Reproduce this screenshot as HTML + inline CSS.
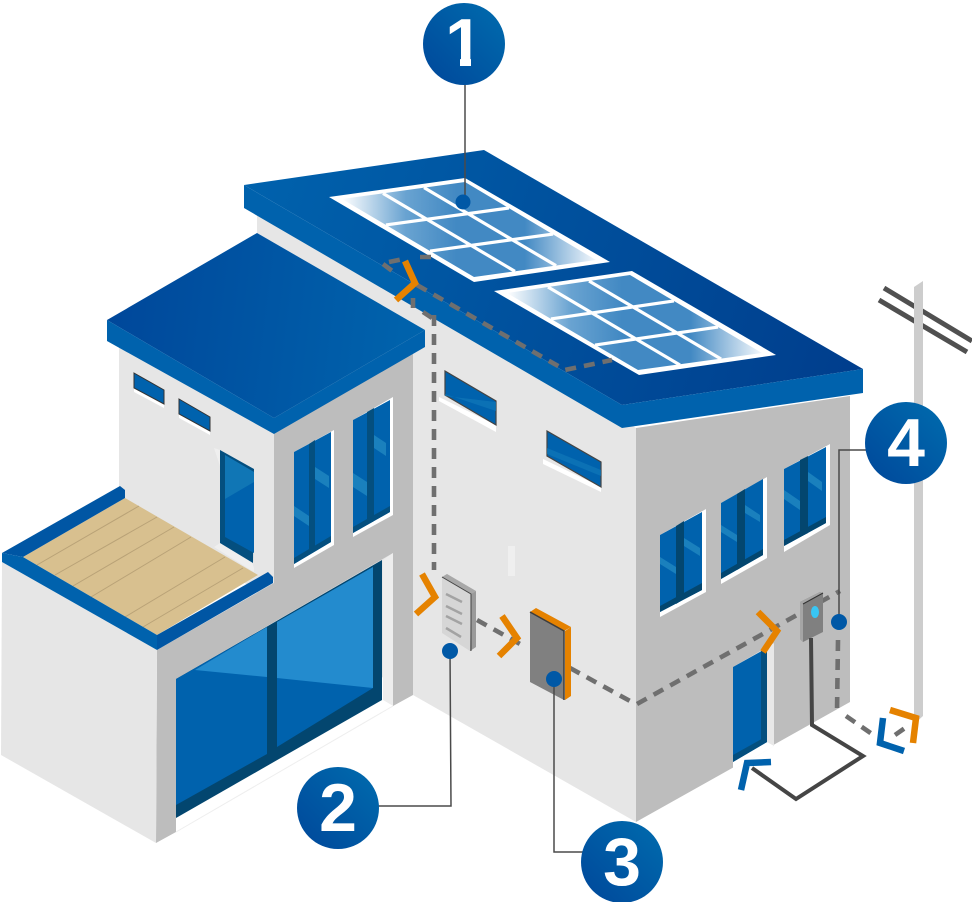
<!DOCTYPE html>
<html><head><meta charset="utf-8"><style>
html,body{margin:0;padding:0;background:#fff}
svg{display:block}
.d{fill:none;stroke:#6f6f6f;stroke-width:4.6;stroke-dasharray:11 8}
.c{fill:none;stroke:#e58200;stroke-width:6.5}
.b{fill:none;stroke:#0062ad;stroke-width:6.5}
.l{fill:none;stroke:#4a4a4a;stroke-width:1.5}
.n{font-family:"Liberation Sans",sans-serif;font-weight:bold;font-size:68px;fill:#fff;text-anchor:middle}
.g{fill:none;stroke:#fff;stroke-width:3.2;vector-effect:non-scaling-stroke}
</style></head><body>
<svg width="972" height="902" viewBox="0 0 972 902" xmlns="http://www.w3.org/2000/svg">
<defs>
<linearGradient id="r1" gradientUnits="userSpaceOnUse" x1="244" y1="185" x2="863" y2="390"><stop offset="0" stop-color="#0062ad"/><stop offset="1" stop-color="#003d8c"/></linearGradient>
<linearGradient id="r2" gradientUnits="userSpaceOnUse" x1="107" y1="300" x2="425" y2="340"><stop offset="0" stop-color="#00479a"/><stop offset="1" stop-color="#0064ad"/></linearGradient>
<linearGradient id="p1" gradientUnits="userSpaceOnUse" x1="342" y1="0" x2="596" y2="0"><stop offset="0" stop-color="#fff"/><stop offset=".25" stop-color="#69a3d1"/><stop offset=".45" stop-color="#4289c3"/><stop offset=".72" stop-color="#4289c3"/><stop offset="1" stop-color="#f4f8fc"/></linearGradient>
<linearGradient id="p2" gradientUnits="userSpaceOnUse" x1="507" y1="0" x2="762" y2="0"><stop offset="0" stop-color="#fff"/><stop offset=".25" stop-color="#69a3d1"/><stop offset=".45" stop-color="#4289c3"/><stop offset=".72" stop-color="#4289c3"/><stop offset="1" stop-color="#f4f8fc"/></linearGradient>
<linearGradient id="k" x1="0" y1="1" x2="1" y2="0"><stop offset="0" stop-color="#00479a"/><stop offset="1" stop-color="#006cae"/></linearGradient>
<clipPath id="one"><polygon points="430,0 500,0 500,58 471,58 471,72 460,72 460,58 430,58"/></clipPath>
</defs>

<!-- utility pole -->
<path d="M884 288L972 341M879 300L967 352" stroke="#505050" stroke-width="5" fill="none"/>
<polygon points="914,287 923,281 923,716 914,724" fill="#cdcdcd"/>

<!-- main house walls -->
<polygon points="257,205 636,428 636,822 413,695 257,605" fill="#e6e6e6"/>
<polygon points="636,428 850,396 850,702 636,822" fill="#bdbdbd"/>

<!-- main roof -->
<polygon points="244,185 484,150 863,369 622,405" fill="url(#r1)"/>
<polygon points="244,185 622,405 863,369 863,393 622,428 244,208" fill="#0062ad"/>

<!-- solar panels -->
<polygon points="329,197 465,178 610,262 474,282" fill="#fff"/>
<polygon points="342,199 465,182 596,260 474,277" fill="url(#p1)"/>
<g transform="matrix(1.23,-.17,1.32,.78,342,199)"><path class="g" d="M33.3 0V100M66.7 0V100M0 33.3H100M0 66.7H100"/></g>
<polygon points="494,291 632,271 776,355 639,375" fill="#fff"/>
<polygon points="507,293 630,275 762,353 638,370" fill="url(#p2)"/>
<g transform="matrix(1.23,-.18,1.32,.78,507,293)"><path class="g" d="M33.3 0V100M66.7 0V100M0 33.3H100M0 66.7H100"/></g>

<!-- main left wall windows -->
<polygon points="439,397 496,425 496,432 439,401" fill="#fff"/>
<polygon points="445,371 496,401 496,425 445,395" fill="#0062ad" stroke="#444" stroke-width="1.2"/>
<polygon points="445,396 496,402 496,411 445,394" fill="#0f78b8" opacity=".7"/>
<polygon points="543,459 601,487 601,492 543,464" fill="#fff"/>
<polygon points="547,431 601,462 601,487 547,456" fill="#0062ad" stroke="#444" stroke-width="1.2"/>
<polygon points="547,448 601,470 601,476 547,454" fill="#0f78b8" opacity=".7"/>

<!-- faint highlight -->
<rect x="508" y="546" width="7" height="30" fill="#efefef"/>

<!-- right wall windows -->
<polygon points="660,535 706,509 706,592 660,617" fill="#fff"/>
<polygon points="660,535 702,512 702,590 660,612" fill="#0062ad"/>
<polygon points="676,526 684,521 684,599 676,604" fill="#03466f"/>
<polygon points="660,606 702,583 702,590 660,612" fill="#03466f"/>
<polygon points="660,557 676,567 676,574 660,564" fill="#1a80bd"/>
<polygon points="684,538 700,548 700,556 684,546" fill="#1a80bd"/>
<polygon points="721,503 767,477 767,558 721,584" fill="#fff"/>
<polygon points="721,503 763,479 763,555 721,579" fill="#0062ad"/>
<polygon points="737,494 745,489 745,565 737,570" fill="#03466f"/>
<polygon points="721,573 763,549 763,555 721,579" fill="#03466f"/>
<polygon points="721,525 737,535 737,542 721,532" fill="#1a80bd"/>
<polygon points="745,505 760,515 760,522 745,513" fill="#1a80bd"/>
<polygon points="784,469 830,444 830,525 784,552" fill="#fff"/>
<polygon points="784,469 826,447 826,523 784,546" fill="#0062ad"/>
<polygon points="800,460 808,456 808,533 800,537" fill="#03466f"/>
<polygon points="784,540 826,517 826,523 784,546" fill="#03466f"/>
<polygon points="784,490 800,501 800,510 784,499" fill="#1a80bd"/>
<polygon points="808,472 822,482 822,491 808,481" fill="#1a80bd"/>

<!-- door -->
<polygon points="733,667 774,643 774,746 733,770" fill="#e8e8e8"/>
<polygon points="733,762 767,742 774,746 733,770" fill="#fff"/>
<polygon points="733,667 767,648 767,742 733,762" fill="#0062ad"/>
<polygon points="761,651 767,648 767,742 761,745" fill="#044f7f"/>
<polygon points="733,755 767,736 767,742 733,762" fill="#044f7f"/>

<!-- small building left wall -->
<polygon points="119,340 274,430 274,600 119,510" fill="#e6e6e6"/>
<polygon points="134,388 164,404 164,408 134,392" fill="#fff"/>
<polygon points="134,373 164,390 164,404 134,388" fill="#0062ad" stroke="#333" stroke-width="1"/>
<polygon points="179,414 210,431 210,435 179,418" fill="#fff"/>
<polygon points="179,399 210,417 210,431 179,414" fill="#0062ad" stroke="#333" stroke-width="1"/>
<polygon points="214,448 220,450 220,543 214,547 254,572 254,568" fill="#efefef"/>
<polygon points="220,450 254,469 253,563 220,543" fill="#044f7f"/>
<polygon points="225,455 254,472 254,553 225,537" fill="#0062ad"/>
<polygon points="225,455 254,472 254,482 225,499" fill="#1076b5"/>

<!-- small building right wall -->
<polygon points="274,434 413,353 413,695 393,706 393,553 176,679 176,832 156,843 157,650 274,583" fill="#bdbdbd"/>
<polygon points="383,560 393,553 393,706 383,700" fill="#ededed"/>
<polygon points="294,452 334,430 334,545 294,568" fill="#fff"/>
<polygon points="294,452 331,432 331,542 294,564" fill="#0062ad"/>
<polygon points="309,444 315,440 315,551 309,555" fill="#044f7f"/>
<polygon points="294,558 331,536 331,542 294,564" fill="#044f7f"/>
<polygon points="315,467 329,476 329,488 315,479" fill="#1a80bd"/>
<polygon points="294,506 309,516 309,526 294,516" fill="#1a80bd"/>
<polygon points="353,420 393,397 393,515 353,537" fill="#fff"/>
<polygon points="353,420 390,400 390,512 353,533" fill="#0062ad"/>
<polygon points="367,412 374,408 374,521 367,525" fill="#044f7f"/>
<polygon points="353,527 390,506 390,512 353,533" fill="#044f7f"/>
<polygon points="374,435 386,443 386,456 374,448" fill="#1a80bd"/>
<polygon points="353,473 367,482 367,496 353,487" fill="#1a80bd"/>

<!-- small roof -->
<polygon points="107,320 257,233 425,330 274,418" fill="url(#r2)"/>
<polygon points="107,320 274,418 425,330 425,347 274,434 107,341" fill="#0062ad"/>

<!-- garage -->
<polygon points="2,562 157,650 156,843 1,755" fill="#e6e6e6"/>
<polygon points="176,832 393,706 383,700 176,818" fill="#fff"/>
<line x1="176" y1="832" x2="393" y2="706" stroke="#eee" stroke-width="1"/>
<polygon points="176,679 382,560 382,700 176,818" fill="#03466f"/>
<polygon points="176,679 267,627 267,754 176,805" fill="#0062ad"/>
<polygon points="277,622 373,567 373,688 277,747" fill="#0062ad"/>
<polygon points="195,670 267,627 267,677" fill="#238bce"/>
<polygon points="277,622 373,567 373,688 277,678" fill="#238bce"/>

<!-- terrace -->
<polygon points="23,557 125,498 258,575 157,635" fill="#d8c08f"/>
<path d="M37,565 139,506M55,575 157,517M73,586 174,527M91,597 191,537M125,617 225,557M143,627 243,568" stroke="#b9a277" stroke-width="1" fill="none"/>
<polygon points="2,553 120,486 125,490 125,498 23,557" fill="#0056a4"/>
<polygon points="2,553 23,557 157,635 157,650 2,562" fill="#0062ad"/>
<polygon points="157,635 268,572 273,577 273,583 157,650" fill="#0056a4"/>

<!-- dashed wiring -->
<path class="d" d="M434 315V570"/>
<path class="d" d="M383 264L395 273M389 262L403 259M420 257L431 257M413 298V308M423 312L432 318"/>
<path class="d" d="M417 285L565 370L612 360"/>
<path class="d" d="M477 620L520 644"/>
<path class="d" d="M570 668L630 701"/>
<path class="d" d="M637 704L840 591"/>
<path class="d" d="M838 640L837 712"/>
<path class="d" d="M846 716L872 734M895 735L905 728"/>

<!-- meter box 2 -->
<polygon points="442,577 447,574 476,591 476,647 470,651 442,633" fill="#d6d6d6"/>
<polygon points="442,577 447,574 476,591 471,594" fill="#a8a8a8"/>
<polygon points="471,594 476,591 476,647 470,651" fill="#9a9a9a"/>
<path d="M442 577L471 594V651" stroke="#444" stroke-width="1" fill="none"/>
<path d="M446 594L462 602M446 606L462 614M446 616L462 624M446 628L461 637" stroke="#a3a3a3" stroke-width="2.5" fill="none"/>

<!-- inverter 3 -->
<polygon points="530,612 564,631 564,700 530,682" fill="#808080"/>
<polygon points="530,612 536,608 571,627 564,631" fill="#e58200"/>
<polygon points="565,631 571,627 571,696 565,700" fill="#e58200"/>
<path d="M530 612L564 631V700" stroke="#3d3d3d" stroke-width="1.5" fill="none"/>

<!-- meter 4 -->
<polygon points="800,602 820,592 823,593 823,632 803,642 800,639" fill="#808080"/>
<polygon points="800,602 820,592 823,593 803,604 803,642 800,639" fill="#a5a5a5"/>
<path d="M803 604L823 593" stroke="#333" stroke-width="1"/>
<ellipse cx="815" cy="612" rx="4" ry="6" fill="#39c6f4"/>
<path d="M811 638L812 725L863 756L796 799L752 768" fill="none" stroke="#454545" stroke-width="4"/>

<!-- chevrons -->
<path class="c" d="M405 261L415 283L396 300"/>
<path class="c" d="M422 574L435 597L416 614"/>
<path class="c" d="M502 616L517 638L499 656"/>
<path class="c" d="M758 612L777 631L763 652"/>
<path class="c" d="M890 710L916 718L913 743"/>
<path class="b" d="M883 718L880 743L904 751"/>
<path class="b" d="M741 790L747 763L771 762"/>

<!-- leaders -->
<path class="l" d="M465 80V202"/>
<path class="l" d="M450 650L451 806H375"/>
<path class="l" d="M554 679V852H585"/>
<path class="l" d="M839 622V450H870"/>
<circle cx="463" cy="202" r="7.5" fill="#0058a6"/>
<circle cx="450" cy="651" r="8" fill="#0058a6"/>
<circle cx="554" cy="679" r="8" fill="#0058a6"/>
<circle cx="839" cy="622" r="8" fill="#0058a6"/>

<!-- numbered badges -->
<circle cx="464" cy="44" r="41" fill="url(#k)"/><text class="n" x="464" y="66" clip-path="url(#one)">1</text>
<circle cx="338" cy="808" r="41" fill="url(#k)"/><text class="n" x="338" y="831">2</text>
<circle cx="622" cy="862" r="41" fill="url(#k)"/><text class="n" x="622" y="885">3</text>
<circle cx="906" cy="443" r="41" fill="url(#k)"/><text class="n" x="906" y="466">4</text>
</svg>
</body></html>
